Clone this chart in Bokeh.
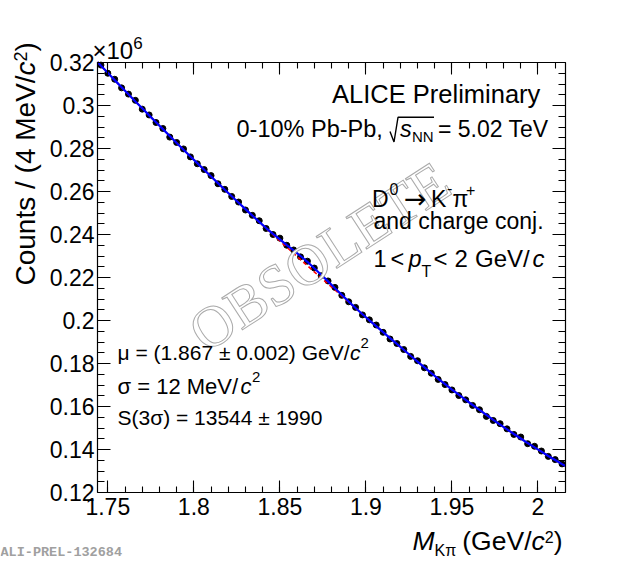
from bokeh.plotting import figure
from bokeh.models import Range1d, FixedTicker, LinearAxis, Label, CustomJSTickFormatter
from bokeh.embed import file_html
from bokeh.resources import INLINE
import math

# ---------------- data (values in units of 10^6 counts per 4 MeV/c^2) ----------------
mass = [1.746, 1.750, 1.754, 1.758, 1.762, 1.766, 1.770, 1.774, 1.778, 1.782,
        1.786, 1.790, 1.794, 1.798, 1.802, 1.806, 1.810, 1.814, 1.818, 1.822,
        1.826, 1.830, 1.834, 1.838, 1.842, 1.846, 1.850, 1.854, 1.858, 1.862,
        1.866, 1.870, 1.874, 1.878, 1.882, 1.886, 1.890, 1.894, 1.898, 1.902,
        1.906, 1.910, 1.914, 1.918, 1.922, 1.926, 1.930, 1.934, 1.938, 1.942,
        1.946, 1.950, 1.954, 1.958, 1.962, 1.966, 1.970, 1.974, 1.978, 1.982,
        1.986, 1.990, 1.994, 1.998, 2.002, 2.006, 2.010, 2.014]

counts = [0.3188, 0.3150, 0.3122, 0.3082, 0.3053, 0.3024, 0.2983, 0.2956, 0.2921, 0.2893,
          0.2853, 0.2828, 0.2798, 0.2761, 0.2729, 0.2702, 0.2674, 0.2636, 0.2610, 0.2577,
          0.2551, 0.2514, 0.2489, 0.2464, 0.2428, 0.2400, 0.2383, 0.2350, 0.2328, 0.2296,
          0.2276, 0.2244, 0.2208, 0.2184, 0.2154, 0.2117, 0.2087, 0.2061, 0.2026, 0.2003,
          0.1979, 0.1945, 0.1914, 0.1893, 0.1865, 0.1833, 0.1813, 0.1780, 0.1755, 0.1726,
          0.1702, 0.1677, 0.1651, 0.1631, 0.1605, 0.1585, 0.1554, 0.1535, 0.1520, 0.1496,
          0.1470, 0.1458, 0.1427, 0.1415, 0.1393, 0.1368, 0.1353, 0.1333]

fit_mass = [1.744] + mass + [2.016]

fit_bkg = [0.3202,
           0.3185, 0.3152, 0.3118, 0.3085, 0.3052, 0.3019, 0.2987, 0.2954, 0.2922, 0.2890,
           0.2858, 0.2826, 0.2794, 0.2763, 0.2732, 0.2701, 0.2670, 0.2639, 0.2608, 0.2578,
           0.2548, 0.2518, 0.2488, 0.2458, 0.2428, 0.2399, 0.2370, 0.2341, 0.2312, 0.2283,
           0.2255, 0.2226, 0.2198, 0.2170, 0.2142, 0.2114, 0.2085, 0.2057, 0.2029, 0.2001,
           0.1974, 0.1946, 0.1918, 0.1891, 0.1864, 0.1836, 0.1809, 0.1782, 0.1755, 0.1729,
           0.1704, 0.1679, 0.1655, 0.1631, 0.1607, 0.1584, 0.1561, 0.1538, 0.1516, 0.1494,
           0.1472, 0.1451, 0.1430, 0.1410, 0.1390, 0.1370, 0.1351, 0.1332,
           0.1323]

fit_total = [0.3202,
             0.3185, 0.3152, 0.3118, 0.3085, 0.3052, 0.3019, 0.2987, 0.2954, 0.2922, 0.2890,
             0.2858, 0.2826, 0.2794, 0.2763, 0.2732, 0.2701, 0.2670, 0.2639, 0.2608, 0.2578,
             0.2548, 0.2518, 0.2488, 0.2459, 0.2430, 0.2403, 0.2377, 0.2351, 0.2326, 0.2300,
             0.2273, 0.2243, 0.2213, 0.2182, 0.2150, 0.2119, 0.2088, 0.2058, 0.2029, 0.2001,
             0.1974, 0.1946, 0.1918, 0.1891, 0.1864, 0.1836, 0.1809, 0.1782, 0.1755, 0.1729,
             0.1704, 0.1679, 0.1655, 0.1631, 0.1607, 0.1584, 0.1561, 0.1538, 0.1516, 0.1494,
             0.1472, 0.1451, 0.1430, 0.1410, 0.1390, 0.1370, 0.1351, 0.1332,
             0.1323]

xticks = [1.75, 1.8, 1.85, 1.9, 1.95, 2.0]
xtick_labels = ["1.75", "1.8", "1.85", "1.9", "1.95", "2"]
xminor = [1.75, 1.76, 1.77, 1.78, 1.79, 1.80, 1.81, 1.82, 1.83, 1.84, 1.85, 1.86, 1.87,
          1.88, 1.89, 1.90, 1.91, 1.92, 1.93, 1.94, 1.95, 1.96, 1.97, 1.98, 1.99, 2.00, 2.01]
yticks = [0.12, 0.14, 0.16, 0.18, 0.2, 0.22, 0.24, 0.26, 0.28, 0.3, 0.32]
ytick_labels = ["0.12", "0.14", "0.16", "0.18", "0.2", "0.22", "0.24", "0.26", "0.28", "0.3", "0.32"]
yminor = [0.120, 0.125, 0.130, 0.135, 0.140, 0.145, 0.150, 0.155, 0.160, 0.165, 0.170,
          0.175, 0.180, 0.185, 0.190, 0.195, 0.200, 0.205, 0.210, 0.215, 0.220, 0.225,
          0.230, 0.235, 0.240, 0.245, 0.250, 0.255, 0.260, 0.265, 0.270, 0.275, 0.280,
          0.285, 0.290, 0.295, 0.300, 0.305, 0.310, 0.315, 0.320]

XMIN, XMAX = 1.744, 2.016
YMIN, YMAX = 0.12, 0.32

# ---------------- geometry: the canvas is the drawing area, ROOT-style frame inside ----------------
CW, CH = 616, 562                       # canvas size (page pixels)
PX0, PX1, PY0, PY1 = 97, 565, 62, 492   # frame edges in page pixels
kx = (XMAX - XMIN) / (PX1 - PX0)
ky = (YMAX - YMIN) / (PY1 - PY0)
BASE_SHIFT = 0.36                        # empirical baseline correction (em)


def dx(ix):
    return XMIN + (ix - PX0) * kx


def dy(iy):
    return YMIN + (PY1 - iy) * ky


SANS = "Liberation Sans"

p = figure(frame_width=CW, frame_height=CH,
           x_range=Range1d(dx(0), dx(CW)), y_range=Range1d(dy(CH), dy(0)),
           x_axis_location=None, y_axis_location=None,
           output_backend="svg", toolbar_location=None, min_border=0,
           background_fill_color="white", border_fill_color="white",
           outline_line_color=None)
p.xgrid.visible = False
p.ygrid.visible = False


def fmt(tick_values, tick_texts):
    return CustomJSTickFormatter(args=dict(tv=tick_values, tt=tick_texts), code="""
        for (let i = 0; i < tv.length; i++) {
            if (Math.abs(tick - tv[i]) < 1e-9) { return tt[i]; }
        }
        return "";
    """)


def make_axis(loc, bounds, tick_values, minor, tick_texts, tin, min_in, show, standoff):
    ax = LinearAxis(fixed_location=loc, bounds=bounds)
    ax.ticker = FixedTicker(ticks=tick_values, minor_ticks=minor)
    ax.formatter = fmt(tick_values, tick_texts)
    ax.axis_line_color = "black"
    ax.axis_line_width = 1.2
    ax.major_tick_in = tin
    ax.major_tick_out = 0
    ax.minor_tick_in = min_in
    ax.minor_tick_out = 0
    ax.major_tick_line_color = "black"
    ax.minor_tick_line_color = "black"
    ax.major_tick_line_width = 1.1
    ax.minor_tick_line_width = 1.1
    ax.major_label_text_font = SANS
    ax.major_label_text_font_size = "23px"
    ax.major_label_standoff = standoff
    ax.major_label_text_color = "black" if show else None
    return ax


p.add_layout(make_axis(YMIN, (XMIN, XMAX), xticks, xminor, xtick_labels, 12, 6, True, 5), "below")
p.add_layout(make_axis(YMAX, (XMIN, XMAX), xticks, xminor, xtick_labels, 12, 6, False, 0), "above")
p.add_layout(make_axis(XMIN, (YMIN, YMAX), yticks, yminor, ytick_labels, 13, 7, True, 3), "left")
p.add_layout(make_axis(XMAX, (YMIN, YMAX), yticks, yminor, ytick_labels, 13, 7, False, 0), "right")

# ---------------- marks ----------------
p.scatter(mass, counts, marker="circle", size=6, color="black")
p.line(fit_mass, fit_bkg, color="#ff0000", line_width=1.6, line_dash="4 3")
p.line(fit_mass, fit_total, color="#0000ff", line_width=2.2)


# ---------------- texts (positions given in page pixels, baseline-anchored) ----------------
def L(text, ix, iy, size, style="normal", font=SANS, angle=0.0, color="black",
      align="left", baseline="alphabetic", **kw):
    if baseline == "alphabetic":
        if angle == 0.0:
            iy = iy - BASE_SHIFT * size
        else:
            ix = ix - BASE_SHIFT * size
    lab = Label(x=dx(ix), y=dy(iy), text=text, text_font=font,
                text_font_size=f"{size}px", text_font_style=style, text_color=color,
                angle=angle, text_align=align, text_baseline=baseline, **kw)
    p.add_layout(lab)
    return lab


# watermark
L("OBSOLETE", 319, 256, 58, font="Liberation Serif", angle=math.radians(33),
  color="white", align="center", baseline="middle", text_outline_color="#aaaaaa")

# upper right block
L("ALICE Preliminary", 331.5, 102.7, 25.5)
L("0-10% Pb-Pb,", 236, 136.7, 23.5)
# radical sign of sqrt(s_NN)
p.line([dx(389.5), dx(393.5), dx(397.5), dx(433.5)],
       [dy(131.0), dy(141.5), dy(116.8), dy(116.8)], color="black", line_width=1.4)
L("s", 399.5, 136.7, 23.5, style="italic")
L("NN", 411.5, 141.7, 15)
L("= 5.02 TeV", 437.5, 136.7, 23)

L("D", 371.5, 206.7, 23)
L("0", 389, 194, 16)
L("\u2192", 403.5, 207.5, 27, font="DejaVu Sans")
L("K", 430.5, 206.7, 23)
L("-", 446.5, 193.5, 16)
L("\u03c0", 452, 206.7, 23)
L("+", 465.5, 195.5, 16)

L("and charge conj.", 373, 228.3, 23)

L("1", 373, 266.7, 23.5)
L("<", 390, 266.7, 23.5)
L("p", 408, 266.7, 23.5, style="italic")
L("T", 421, 276.7, 16)
L("<", 433, 266.7, 24)
L("2", 454, 266.7, 24)
L("GeV/", 474.5, 266.7, 24)
L("c", 532, 266.7, 24, style="italic")

# lower left block
L("\u03bc = (1.867 \u00b1 0.002) GeV/", 117, 360, 21)
L("c", 349.5, 360, 21, style="italic")
L("2", 360, 348, 15)
L("\u03c3 = 12 MeV/", 117, 394.3, 22)
L("c", 240, 394.3, 22, style="italic")
L("2", 251.5, 382, 15)
L("S(3\u03c3) = 13544 \u00b1 1990", 117, 425, 21)

# exponent of the y axis
L("\u00d7", 92, 59, 24)
L("10", 106, 59, 24)
L("6", 132.7, 49, 17)

# x axis title
L("M", 412, 550, 26.5, style="italic")
L("K\u03c0", 434.1, 555.5, 16)
L("(GeV/", 461.8, 550, 26.5)
L("c", 531, 550, 26.5, style="italic")
L("2", 544.3, 542, 16)
L(")", 553.2, 550, 26.5)

# y axis title (rotated, reading upwards, baseline at page x = 35)
rot = math.pi / 2
L("Counts / (4 MeV/", 35, 285, 28, angle=rot)
L("c", 35, 285 - 210.1, 28, style="italic", angle=rot)
L("2", 26, 285 - 224.1, 18, angle=rot)
L(")", 35, 285 - 234.1, 28, angle=rot)

# preliminary id
L("ALI-PREL-132684", 0, 557, 13.5, style="bold", font="Liberation Mono", color="#a0a0a0")

open("out.html", "w").write(file_html(p, INLINE))
